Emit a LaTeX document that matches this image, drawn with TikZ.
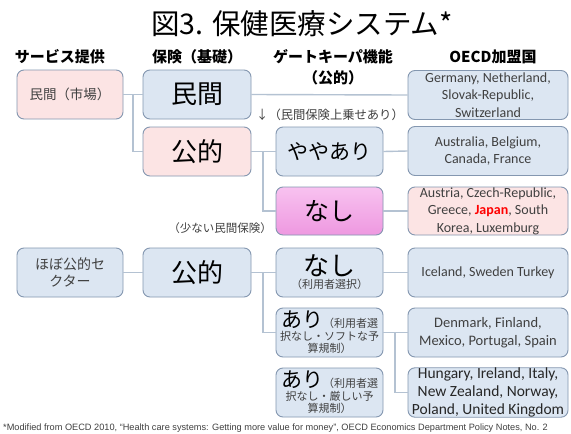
\documentclass[tikz,border=0pt]{standalone}
\usepackage{fontspec}
\setmainfont{Carlito}
\newfontfamily\jp{Noto Sans CJK JP}
\newfontfamily\footf{Liberation Sans}
\definecolor{bfill}{HTML}{DCE6F2}
\definecolor{pfill}{HTML}{FCE4E4}
\definecolor{bdr}{HTML}{8497B0}
\definecolor{lnk}{HTML}{B4C2D2}
\definecolor{magtop}{HTML}{F8C2F0}
\definecolor{magbot}{HTML}{EE98E0}
\definecolor{txt}{HTML}{404040}
\definecolor{txtd}{HTML}{262626}
\tikzset{
  box/.style={draw=bdr, line width=0.9pt, rounded corners=7pt, fill=bfill,
              minimum height=49pt, inner sep=0pt, align=center},
  c1/.style={box, minimum width=106pt},
  c2/.style={box, minimum width=108pt},
  c3/.style={box, minimum width=107pt},
  c4/.style={box, minimum width=160pt},
  pinkbox/.style={fill=pfill},
  magbox/.style={top color=magtop, bottom color=magbot},
  link/.style={draw=lnk, line width=1.4pt},
  head/.style={font=\jp\bfseries\fontsize{15}{18}\selectfont},
  big/.style={font=\jp\fontsize{26}{30}\selectfont},
  oecd/.style={font=\fontsize{14}{17.5}\selectfont, text=txt},
  note/.style={font=\jp\fontsize{12.3}{14}\selectfont, text=txt},
}
\begin{document}
\begin{tikzpicture}[x=1pt, y=-1pt]
\useasboundingbox (0,0) rectangle (571,434);
\fill[white] (0,0) rectangle (571,434);

% title and headers
\node[font=\jp\fontsize{28.5}{32}\selectfont] (title) at (302,24) {図3. 保健医療システム*};
\node[head] (h1) at (60,57) {サービス提供};
\node[head] (h2) at (197,57) {保険（基礎）};
\node[head] (h3) at (333,57) {ゲートキーパ機能};
\node[head] (h3b) at (333,78) {（公的）};
\node[head] (h4) at (493,57) {OECD加盟国};

% row 1
\node[c1, pinkbox, font=\jp\fontsize{13.5}{16}\selectfont, text=txt] (m1) at (70,94.5) {民間（市場）};
\node[c2, big] (b1) at (197,94.5) {民間};
\node[c4, oecd] (o1) at (488,95) {Germany, Netherland,\\Slovak-Republic,\\Switzerland};
\node[note] (n1) at (330,115) {↓（民間保険上乗せあり）};

% row 2
\node[c2, pinkbox, big] (p2) at (197,151.5) {公的};
\node[c3, font=\jp\fontsize{21}{24}\selectfont] (g2) at (329.5,151.5) {ややあり};
\node[c4, oecd] (o2) at (488,151) {Australia, Belgium,\\Canada, France};

% row 3
\node[c3, magbox, font=\jp\fontsize{25}{28}\selectfont, minimum height=48pt] (g3) at (329.5,211) {なし};
\node[c4, pinkbox, oecd, minimum height=48pt] (o3) at (488,211) {Austria, Czech-Republic,\\Greece, {\bfseries\color{red}Japan}, South\\Korea, Luxemburg};
\node[note, font=\jp\fontsize{11.5}{14}\selectfont] (n2) at (220,228) {（少ない民間保険）};

% row 4
\node[c1, font=\jp\fontsize{14}{17}\selectfont, text=txt] (m4) at (70,272.5) {ほぼ公的セ\\クター};
\node[c2, big] (b4) at (197,272.5) {公的};
\node[c3, font=\jp\fontsize{11}{13}\selectfont, text=txt] (g4) at (329.5,272.5)
  {{\fontsize{26}{28}\selectfont\color{black}なし}\\（利用者選択）};
\node[c4, oecd] (o4) at (488,272.5) {Iceland, Sweden Turkey};

% row 5
\node[c3, font=\jp\fontsize{11}{12.5}\selectfont, text=txt] (g5) at (329.5,332.5)
  {{\fontsize{21}{22}\selectfont\color{black}あり}（利用者選\\択なし・ソフトな予\\算規制）};
\node[c4, oecd, font=\fontsize{14.5}{18}\selectfont] (o5) at (488,332.5) {Denmark, Finland,\\Mexico, Portugal, Spain};

% row 6
\node[c3, font=\jp\fontsize{11}{12.5}\selectfont, text=txt] (g6) at (329.5,392.5)
  {{\fontsize{21}{22}\selectfont\color{black}あり}（利用者選\\択なし・厳しい予\\算規制）};
\node[c4, oecd, font=\fontsize{15.5}{18}\selectfont, text=txtd] (o6) at (488,392.5) {Hungary, Ireland, Italy,\\New Zealand, Norway,\\Poland, United Kingdom};

% junctions
\coordinate (j1) at (133,94.5);
\coordinate (j2) at (263,151.5);
\coordinate (j4) at (263,272.5);
\coordinate (j5) at (395,332.5);

% connectors
\draw[link] (m1.east) -- (b1.west);
\draw[link] (j1) |- (p2.west);
\draw[link] (b1.east) -- (o1.west);
\draw[link] (p2.east) -- (g2.west);
\draw[link] (j2) |- (g3.west);
\draw[link] (g2.east) -- (o2.west);
\draw[link] (g3.east) -- (o3.west);
\draw[link] (m4.east) -- (b4.west);
\draw[link] (b4.east) -- (g4.west);
\draw[link] (j4) |- (g5.west);
\draw[link] (g4.east) -- (o4.west);
\draw[link] (g5.east) -- (o5.west);
\draw[link] (j5) |- (o6.west);

% footnote
\node[font=\footf\fontsize{9.2}{10}\selectfont, anchor=west, text=txt, inner sep=0pt] (fn) at (3,428)
  {*Modified from OECD 2010, “Health care systems: Getting more value for money”, OECD Economics Department Policy Notes, No. 2};
\end{tikzpicture}
\end{document}
